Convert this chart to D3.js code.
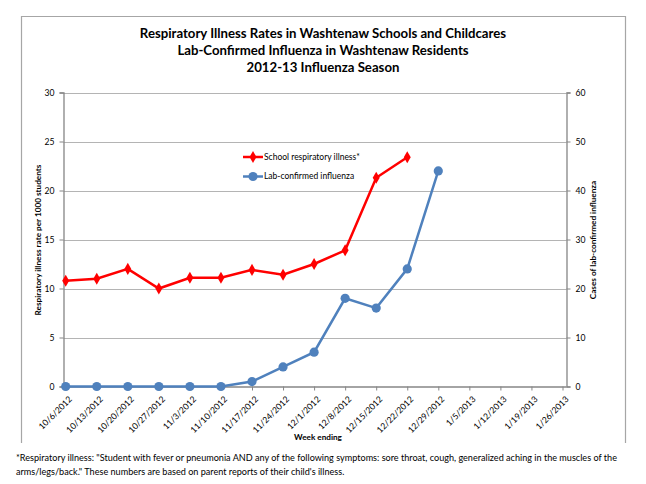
<!DOCTYPE html>
<html><head><meta charset="utf-8">
<script src="https://cdn.jsdelivr.net/npm/d3@7"></script>
<style>
body{margin:0;background:#fff;}
text{font-family:Lato,"Open Sans",sans-serif;fill:#000;}
</style></head>
<body>
<svg id="c" width="646" height="484"></svg>
<script>
const weeks = ["10/6/2012","10/13/2012","10/20/2012","10/27/2012","11/3/2012","11/10/2012","11/17/2012","11/24/2012","12/1/2012","12/8/2012","12/15/2012","12/22/2012","12/29/2012","1/5/2013","1/12/2013","1/19/2013","1/26/2013"];
const schoolRate = [10.8,11.0,12.0,10.0,11.1,11.1,11.9,11.4,12.5,13.9,21.3,23.4];
const labCases = [0,0,0,0,0,0,1,4,7,18,16,24,44];
const leftTicks = [0,5,10,15,20,25,30];
const rightTicks = [0,10,20,30,40,50,60];
const titleLines = ["Respiratory Illness Rates in Washtenaw Schools and Childcares","Lab-Confirmed Influenza in Washtenaw Residents","2012-13 Influenza Season"];
const seriesNames = ["School respiratory illness*","Lab-confirmed influenza"];
const footnote = ["*Respiratory illness:  \"Student with fever or pneumonia AND any of the following symptoms: sore throat, cough, generalized aching in the muscles of the","arms/legs/back.\" These numbers are based on parent reports of their child's illness."];

const svg = d3.select("#c");
const L = 63.5, R = 566.5, T = 92.5, B = 386.5;
const x = d3.scalePoint().domain(weeks).range([65.7, 562.5]);
const yL = d3.scaleLinear().domain([0,30]).range([B, T]);
const yR = d3.scaleLinear().domain([0,60]).range([B, T]);
const red = "#FF0000", blue = "#4F81BD", axisC = "#868686", gridC = "#b4b4b4";

// outer border (top, left, right)
svg.append("path").attr("d","M21.5,443 V16.5 H625.5 V443").attr("fill","none").attr("stroke","#a6a6a6").attr("stroke-width",1.2);

// title
svg.append("g").selectAll("text").data(titleLines).join("text")
  .attr("x",323).attr("y",(d,i)=>38+i*17).attr("text-anchor","middle")
  .attr("font-weight","bold").attr("font-size",13.2).text(d=>d);

// gridlines
svg.append("g").selectAll("line").data(leftTicks.slice(1)).join("line")
  .attr("x1",L).attr("x2",R).attr("y1",d=>Math.round(yL(d))+0.5).attr("y2",d=>Math.round(yL(d))+0.5)
  .attr("stroke",gridC).attr("stroke-width",1);

// axes
const axL = svg.append("g").attr("transform",`translate(${L},0)`)
  .call(d3.axisLeft(yL).tickValues(leftTicks).tickSize(4).tickPadding(5));
const axR = svg.append("g").attr("transform",`translate(${R},0)`)
  .call(d3.axisRight(yR).tickValues(rightTicks).tickSize(4).tickPadding(5));
const axB = svg.append("g").attr("transform",`translate(0,${B})`)
  .call(d3.axisBottom(x).tickSize(4).tickPadding(3));
[axL,axR,axB].forEach(a=>{
  a.select(".domain").attr("stroke",axisC).attr("stroke-width",1.3);
  a.selectAll(".tick line").attr("stroke",axisC);
  a.selectAll("text").attr("font-family","Lato,'Open Sans',sans-serif").attr("font-size",8.6).attr("fill","#000");
});
axB.select(".domain").attr("d",`M${L},0.5H${R}`);
axB.selectAll(".tick text").attr("text-anchor","end")
  .attr("transform","translate(2,9) rotate(-45)").attr("dy","0.71em").attr("y",0).attr("x",0);

// axis titles
svg.append("text").attr("transform","translate(41,240) rotate(-90)").attr("text-anchor","middle")
  .attr("font-weight","bold").attr("font-size",8.2).text("Respiratory illness rate per 1000 students");
svg.append("text").attr("transform","translate(596,240) rotate(-90)").attr("text-anchor","middle")
  .attr("font-weight","bold").attr("font-size",8.2).text("Cases of  lab-confirmed influenza");
svg.append("text").attr("x",318).attr("y",440).attr("text-anchor","middle")
  .attr("font-weight","bold").attr("font-size",8.2).text("Week ending");

// blue series
const blueLine = d3.line().x((d,i)=>x(weeks[i])).y(d=>yR(d));
svg.append("path").datum(labCases).attr("d",blueLine).attr("fill","none").attr("stroke",blue).attr("stroke-width",2.5);
svg.append("g").selectAll("circle").data(labCases).join("circle")
  .attr("cx",(d,i)=>x(weeks[i])).attr("cy",d=>yR(d)).attr("r",4.6).attr("fill",blue);

// red series
const redLine = d3.line().x((d,i)=>x(weeks[i])).y(d=>yL(d));
svg.append("path").datum(schoolRate).attr("d",redLine).attr("fill","none").attr("stroke",red).attr("stroke-width",2.5);
const diamond = d3.symbol().type(d3.symbolDiamond).size(42);
svg.append("g").selectAll("path").data(schoolRate).join("path")
  .attr("transform",(d,i)=>`translate(${x(weeks[i])},${yL(d)})`).attr("d",diamond).attr("fill",red);

// legend
const leg = svg.append("g");
const legItems = [{n:seriesNames[0],c:red,t:"d"},{n:seriesNames[1],c:blue,t:"c"}];
legItems.forEach((it,i)=>{
  const yy = 157 + i*19.5;
  leg.append("line").attr("x1",243).attr("x2",263).attr("y1",yy).attr("y2",yy).attr("stroke",it.c).attr("stroke-width",2.5);
  if(it.t==="d") leg.append("path").attr("transform",`translate(253,${yy})`).attr("d",diamond).attr("fill",it.c);
  else leg.append("circle").attr("cx",253).attr("cy",yy).attr("r",4.6).attr("fill",it.c);
  leg.append("text").attr("x",264).attr("y",yy).attr("dy","0.35em").attr("font-size",8.5).text(it.n);
});

// footnote
svg.append("g").selectAll("text").data(footnote).join("text")
  .attr("x",16).attr("y",(d,i)=>461+i*14).attr("font-size",9.1).text(d=>d);
</script>
</body></html>
